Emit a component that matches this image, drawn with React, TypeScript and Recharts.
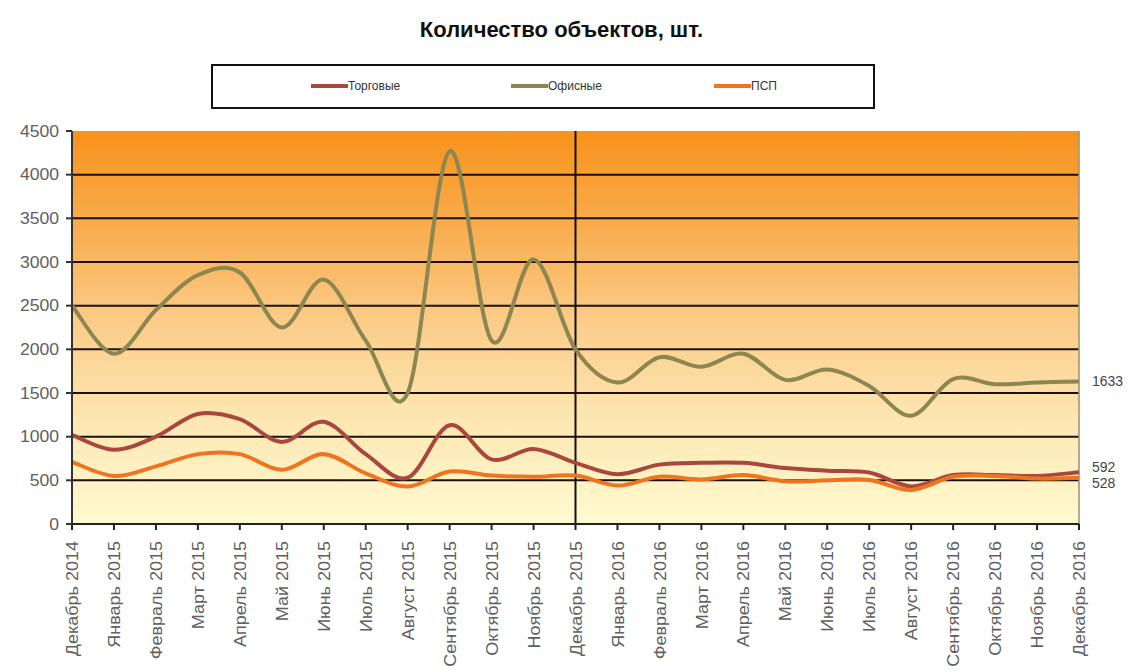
import {
  LineChart, Line, XAxis, YAxis, CartesianGrid,
  ReferenceLine, LabelList,
} from 'recharts'

const months = [
  'Декабрь 2014', 'Январь 2015', 'Февраль 2015', 'Март 2015', 'Апрель 2015',
  'Май 2015', 'Июнь 2015', 'Июль 2015', 'Август 2015', 'Сентябрь 2015',
  'Октябрь 2015', 'Ноябрь 2015', 'Декабрь 2015', 'Январь 2016', 'Февраль 2016',
  'Март 2016', 'Апрель 2016', 'Май 2016', 'Июнь 2016', 'Июль 2016',
  'Август 2016', 'Сентябрь 2016', 'Октябрь 2016', 'Ноябрь 2016', 'Декабрь 2016',
]

const retail = [
  1020, 850, 1000, 1260, 1200, 940, 1170, 800, 530, 1130, 740, 860, 700,
  570, 680, 700, 700, 640, 610, 590, 430, 560, 560, 550, 592,
]

const office = [
  2500, 1950, 2450, 2850, 2880, 2250, 2800, 2100, 1500, 4270, 2100, 3030, 2000,
  1620, 1910, 1800, 1950, 1650, 1770, 1580, 1240, 1660, 1600, 1620, 1633,
]

const psp = [
  710, 550, 660, 800, 800, 620, 800, 580, 430, 600, 555, 540, 555,
  440, 542, 510, 560, 490, 500, 505, 390, 540, 550, 520, 528,
]

const yTicks = [0, 500, 1000, 1500, 2000, 2500, 3000, 3500, 4000, 4500]
const gridLines = [500, 1000, 1500, 2000, 2500, 3000, 3500, 4000]

const series = [
  { key: 'retail', name: 'Торговые', color: '#A9473F', labelShift: -5 },
  { key: 'office', name: 'Офисные', color: '#8E8650', labelShift: 0 },
  { key: 'psp', name: 'ПСП', color: '#EE7420', labelShift: 5 },
]

const data = months.map((m, i) => ({
  month: m,
  retail: retail[i],
  office: office[i],
  psp: psp[i],
}))

const FONT = '"Liberation Sans", Arial, sans-serif'

// smoothing close to what the spreadsheet does (catmull-rom through the points)
const smoothCurve = (context: any) => {
  let pts: [number, number][] = []
  return {
    areaStart() {},
    areaEnd() {},
    lineStart() { pts = [] },
    lineEnd() {
      if (!pts.length) return
      context.moveTo(pts[0][0], pts[0][1])
      const t = 1 / 6
      for (let i = 0; i < pts.length - 1; i++) {
        const p0 = pts[Math.max(i - 1, 0)]
        const p1 = pts[i]
        const p2 = pts[i + 1]
        const p3 = pts[Math.min(i + 2, pts.length - 1)]
        context.bezierCurveTo(
          p1[0] + (p2[0] - p0[0]) * t, p1[1] + (p2[1] - p0[1]) * t,
          p2[0] - (p3[0] - p1[0]) * t, p2[1] - (p3[1] - p1[1]) * t,
          p2[0], p2[1],
        )
      }
    },
    point(x: number, y: number) { pts.push([x, y]) },
  }
}

function MonthTick({ x, y, payload }: any) {
  return (
    <text
      transform={`translate(${x},${y}) rotate(-90) scale(1.06,1)`}
      textAnchor="end"
      dy="0.36em"
      fontSize={17}
      fill="#606060"
      fontFamily={FONT}
    >
      {payload.value}
    </text>
  )
}

function ValueTick({ x, y, payload }: any) {
  return (
    <text
      transform={`translate(${x},${y}) scale(1.1,1)`}
      textAnchor="end"
      dy="0.36em"
      fontSize={16}
      fill="#606060"
      fontFamily={FONT}
    >
      {payload.value}
    </text>
  )
}

function makeEndLabel(shift: number) {
  return function EndLabel({ x, y, index, value }: any) {
    if (index !== months.length - 1) return null
    return (
      <text x={x + 13} y={y + shift} dy="0.36em" fontSize={14} fill="#444" fontFamily={FONT}>
        {value}
      </text>
    )
  }
}

function LegendBox() {
  return (
    <div
      style={{
        position: 'absolute',
        left: 211,
        top: 64,
        width: 660,
        height: 41,
        border: '2px solid #111',
        background: '#fff',
        fontFamily: FONT,
        fontSize: 12,
        color: '#333',
      }}
    >
      {series.map((s, i) => (
        <div
          key={s.key}
          style={{
            position: 'absolute',
            left: [98, 298, 501][i],
            top: 13,
            display: 'flex',
            alignItems: 'center',
          }}
        >
          <span style={{ width: 37, height: 4, background: s.color, display: 'inline-block' }} />
          <span>{s.name}</span>
        </div>
      ))}
    </div>
  )
}

export default function App() {
  return (
    <div style={{ position: 'absolute', left: 0, top: 0, width: 1135, height: 672, background: '#fff' }}>
      <div
        style={{
          position: 'absolute',
          top: 17,
          left: -6,
          width: 1135,
          textAlign: 'center',
          fontFamily: FONT,
          fontWeight: 'bold',
          fontSize: 22,
          color: '#111',
        }}
      >
        Количество объектов, шт.
      </div>
      <LegendBox />
      <div style={{ position: 'absolute', left: 0, top: 0 }}>
        <LineChart
          width={1135}
          height={672}
          data={data}
          margin={{ top: 131, right: 56, bottom: 0, left: 10 }}
        >
          <defs>
            <linearGradient id="bg" x1="0" y1="0" x2="0" y2="1">
              <stop offset="0%" stopColor="#F7921C" />
              <stop offset="25%" stopColor="#F9AD50" />
              <stop offset="50%" stopColor="#FBCE8C" />
              <stop offset="75%" stopColor="#FDE8B4" />
              <stop offset="100%" stopColor="#FFFAD0" />
            </linearGradient>
          </defs>
          <CartesianGrid
            vertical={false}
            fill="url(#bg)"
            fillOpacity={1}
            stroke="#1a1208"
            strokeWidth={2}
            horizontalValues={gridLines}
          />
          <XAxis
            dataKey="month"
            interval={0}
            height={148}
            tick={<MonthTick />}
            tickSize={6}
            tickMargin={11}
            axisLine={{ stroke: '#222', strokeWidth: 2 }}
            tickLine={{ stroke: '#222', strokeWidth: 2 }}
          />
          <YAxis
            width={62}
            domain={[0, 4500]}
            ticks={yTicks}
            tick={<ValueTick />}
            tickSize={6}
            tickMargin={7}
            axisLine={{ stroke: '#333', strokeWidth: 2 }}
            tickLine={{ stroke: '#333', strokeWidth: 2 }}
          />
          <ReferenceLine x="Декабрь 2015" stroke="#111" strokeWidth={2} />
          <ReferenceLine x="Декабрь 2016" stroke="#9a9070" strokeWidth={1.5} />
          {series.map((s) => (
            <Line
              key={s.key}
              dataKey={s.key}
              name={s.name}
              type={smoothCurve as any}
              stroke={s.color}
              strokeWidth={4}
              dot={false}
              isAnimationActive={false}
            >
              <LabelList dataKey={s.key} content={makeEndLabel(s.labelShift)} />
            </Line>
          ))}
        </LineChart>
      </div>
    </div>
  )
}
